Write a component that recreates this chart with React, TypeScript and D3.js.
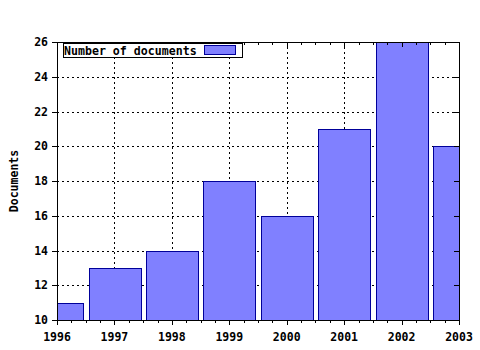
import React from "react";
import * as d3 from "d3";

const years = [1996, 1997, 1998, 1999, 2000, 2001, 2002, 2003];
const documents = [11, 13, 14, 18, 16, 21, 26, 20];
const yTicks = [10, 12, 14, 16, 18, 20, 22, 24, 26];
const seriesName = "Number of documents";
const yTitle = "Documents";

const W = 480, H = 350;
const L = 57, R = 459, T = 42, B = 320;
const FONT = "'DejaVu Sans Mono', monospace";

export default function App() {
  const x = d3.scaleLinear().domain([1996, 2003]).range([L, R]);
  const y = d3.scaleLinear().domain([10, 26]).range([B, T]);
  const step = x(1997) - x(1996);
  const bw = step * 0.9;
  const minor = d3.range(1996, 2003.001, 0.25);

  return (
    <div style={{ position: "fixed", left: 0, top: 0 }}>
      <svg width={W} height={H} style={{ display: "block", background: "#fff" }}>
        <defs>
          <clipPath id="plot">
            <rect x={L} y={T} width={R - L} height={B - T} />
          </clipPath>
        </defs>
        <rect x={0} y={0} width={W} height={H} fill="#fff" />
        {/* grid */}
        <g stroke="#000" strokeWidth={1} strokeDasharray="2,3" shapeRendering="crispEdges">
          {yTicks.slice(1, -1).map((t) => (
            <line key={"h" + t} x1={L} x2={R} y1={Math.round(y(t)) + 0.5} y2={Math.round(y(t)) + 0.5} />
          ))}
          {years.slice(1, -1).map((t) => (
            <line key={"v" + t} y1={T} y2={B} x1={Math.round(x(t)) + 0.5} x2={Math.round(x(t)) + 0.5} />
          ))}
        </g>
        {/* bars */}
        <g clipPath="url(#plot)" shapeRendering="crispEdges">
          {years.map((yr, i) => (
            <rect
              key={yr}
              x={Math.round(x(yr) - bw / 2) + 0.5}
              y={Math.round(y(documents[i])) + 0.5}
              width={Math.round(bw)}
              height={Math.round(B - y(documents[i]))}
              fill="#8080ff"
              stroke="#000099"
              strokeWidth={1}
            />
          ))}
        </g>
        {/* frame */}
        <rect x={L + 0.5} y={T + 0.5} width={R - L} height={B - T} fill="none" stroke="#000" shapeRendering="crispEdges" />
        {/* ticks */}
        <g stroke="#000" shapeRendering="crispEdges">
          {minor.map((t) => {
            const px = Math.round(x(t)) + 0.5;
            const major = Math.abs(t - Math.round(t)) < 1e-6;
            return (
              <g key={"xt" + t}>
                <line x1={px} x2={px} y1={B} y2={B + (major ? 5 : 3)} />
                <line x1={px} x2={px} y1={T} y2={T + (major ? 5 : 3)} />
              </g>
            );
          })}
          {yTicks.map((t) => {
            const py = Math.round(y(t)) + 0.5;
            return (
              <g key={"yt" + t}>
                <line x1={L - 5} x2={L} y1={py} y2={py} />
                <line x1={R - 5} x2={R} y1={py} y2={py} />
              </g>
            );
          })}
        </g>
        {/* labels */}
        <g fontFamily={FONT} fontWeight="bold" fontSize={11.5} fill="#000">
          {years.map((yr) => (
            <text key={"xl" + yr} x={x(yr)} y={B + 21} textAnchor="middle">{yr}</text>
          ))}
          {yTicks.map((t) => (
            <text key={"yl" + t} x={L - 9} y={y(t) + 4} textAnchor="end">{t}</text>
          ))}
          <text transform={`translate(18,${(T + B) / 2}) rotate(-90)`} textAnchor="middle">{yTitle}</text>
        </g>
        {/* legend */}
        <g shapeRendering="crispEdges">
          <rect x={63.5} y={43.5} width={179} height={14} fill="#fff" stroke="#000" />
          <text x={64} y={54.5} fontFamily={FONT} fontWeight="bold" fontSize={11.6}>{seriesName}</text>
          <rect x={204.5} y={45.5} width={31} height={9} fill="#8080ff" stroke="#000099" />
        </g>
      </svg>
    </div>
  );
}
